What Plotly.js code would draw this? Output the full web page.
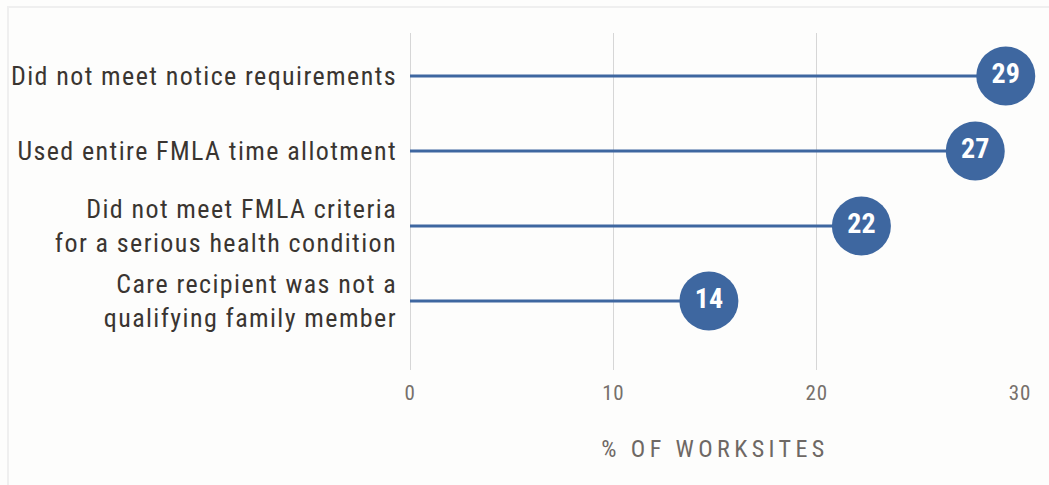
<!DOCTYPE html>
<html>
<head>
<meta charset="utf-8">
<script src="https://cdn.plot.ly/plotly-3.0.1.min.js"></script>
<style>
  html, body { margin: 0; padding: 0; background: #fdfdfc; }
  #wrap { position: relative; width: 1049px; height: 485px; }
  #chart { width: 1049px; height: 485px; }
  #frame { position: absolute; left: 7px; top: 6px; right: 0; bottom: 0; border-top: 2px solid #efefef; border-left: 2px solid #efefef; pointer-events: none; }
  .xtitle { letter-spacing: 4.4px; }
  .ytick text { letter-spacing: 1.4px; }
  .xtick text { letter-spacing: 0.8px; }
</style>
</head>
<body>
<div id="wrap">
  <div id="chart"></div>
  <div id="frame"></div>
</div>
<script>
const categories = [
  "Did not meet notice requirements",
  "Used entire FMLA time allotment",
  "Did not meet FMLA criteria<br>for a serious health condition",
  "Care recipient was not a<br>qualifying family member"
];
const values = [29.3, 27.8, 22.2, 14.7];
const valueLabels = ["29", "27", "22", "14"];
const xTicks = [0, 10, 20, 30];

const font = '"Roboto Condensed", "Liberation Sans Narrow", "Arial Narrow", Roboto, sans-serif';
const blue = '#3e67a0';
const n = categories.length;
const ypos = categories.map((c, i) => n - 1 - i);

const lx = [], ly = [];
values.forEach((v, i) => { lx.push(0, v, null); ly.push(ypos[i], ypos[i], null); });

const traces = [
  { type: 'scatter', mode: 'lines', x: lx, y: ly, line: { color: blue, width: 3 }, hoverinfo: 'skip', showlegend: false },
  { type: 'scatter', mode: 'markers+text', x: values, y: ypos, text: valueLabels,
    textposition: 'middle center',
    textfont: { family: font, size: 28, color: '#ffffff', weight: 'bold' },
    marker: { size: 59, color: blue, line: { width: 0 } }, showlegend: false, cliponaxis: false }
];

const layout = {
  width: 1049, height: 485,
  paper_bgcolor: '#fdfdfc', plot_bgcolor: '#fdfdfc',
  margin: { l: 410, r: 29, t: 33, b: 115 },
  font: { family: font },
  xaxis: {
    range: [0, 30], tickvals: xTicks, ticktext: xTicks.map(String),
    showgrid: true, gridcolor: '#d6d6d6', gridwidth: 1,
    zeroline: true, zerolinecolor: '#d6d6d6', zerolinewidth: 1,
    showline: false, ticks: '',
    ticklabelstandoff: 8,
    tickfont: { family: font, size: 21, color: '#76706b' },
    title: { text: '% OF WORKSITES', font: { family: font, size: 24, color: '#6e6864' }, standoff: 36 },
    fixedrange: true
  },
  yaxis: {
    range: [-0.92, 3.573], tickvals: ypos, ticktext: categories,
    showgrid: false, zeroline: false, showline: false, ticks: '',
    ticklabelstandoff: 12,
    tickfont: { family: font, size: 26, color: '#3a3531' },
    fixedrange: true
  }
};

Plotly.newPlot('chart', traces, layout, { displayModeBar: false, staticPlot: true });
</script>
</body>
</html>
